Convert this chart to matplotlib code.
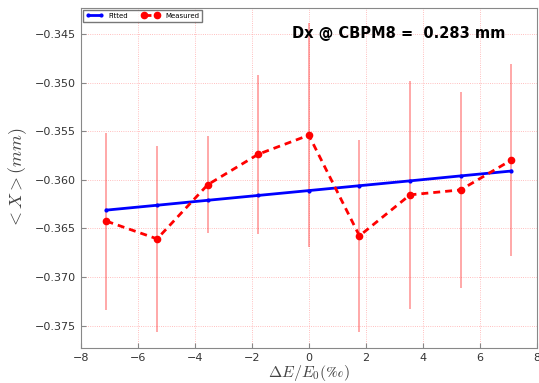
import matplotlib
matplotlib.use("Agg")
import matplotlib.pyplot as plt

plt.rcParams["mathtext.fontset"] = "cm"

# energy offset in per mille
de = [-7.1, -5.325, -3.55, -1.775, 0.0, 1.775, 3.55, 5.325, 7.1]
# measured mean orbit (mm) and its spread
x_meas = [-0.36425, -0.36607, -0.36050, -0.35736, -0.35540,
          -0.36576, -0.36154, -0.36103, -0.35797]
x_err = [0.0091, 0.0096, 0.0050, 0.0082, 0.0115,
         0.0099, 0.0117, 0.0101, 0.0099]
# linear fit
x_fit = [-0.36311, -0.36261, -0.36210, -0.36160, -0.36110,
         -0.36060, -0.36010, -0.35959, -0.35909]
dx_label = "Dx @ CBPM8 =  0.283 mm"

fig = plt.figure(figsize=(5.39, 3.83), dpi=100)
ax = fig.add_axes([0.150, 0.0914, 0.846, 0.888])

ax.errorbar(de, x_meas, yerr=x_err, fmt="none", ecolor="red",
            elinewidth=1.2, alpha=0.4, capsize=0)
ax.plot(de, x_fit, ".-", color="blue", lw=2, ms=4, label="Fitted")
ax.plot(de, x_meas, "o--", color="red", lw=2, ms=4.5, dashes=(2.5, 1.8),
        label="Measured")

ax.set_xlim(-8, 8)
ax.set_ylim(-0.3773, -0.3423)
ax.set_yticks([-0.375, -0.370, -0.365, -0.360, -0.355, -0.350, -0.345])
ax.grid(True, color="#ffaaaa", ls=":", lw=0.6)

for sp in ax.spines.values():
    sp.set_color("#888888")
ax.tick_params(direction="in", colors="#888888", labelcolor="#333333",
               labelsize=8)

ax.set_xlabel(r"$\Delta E/E_0(\perthousand)$", fontsize=11.5, color="#444444",
              labelpad=0)
ax.set_ylabel(r"$<X>(mm)$", fontsize=13, color="#444444")

ax.text(0.463, 0.926, dx_label, transform=ax.transAxes, fontsize=10.5,
        fontweight="bold", va="center", ha="left")

ax.legend(loc="upper left", ncol=2, fontsize=5, numpoints=2,
          borderaxespad=0.3, fancybox=False, edgecolor="#555555",
          handlelength=2.5, columnspacing=2)

fig.savefig("out.png", dpi=100)
